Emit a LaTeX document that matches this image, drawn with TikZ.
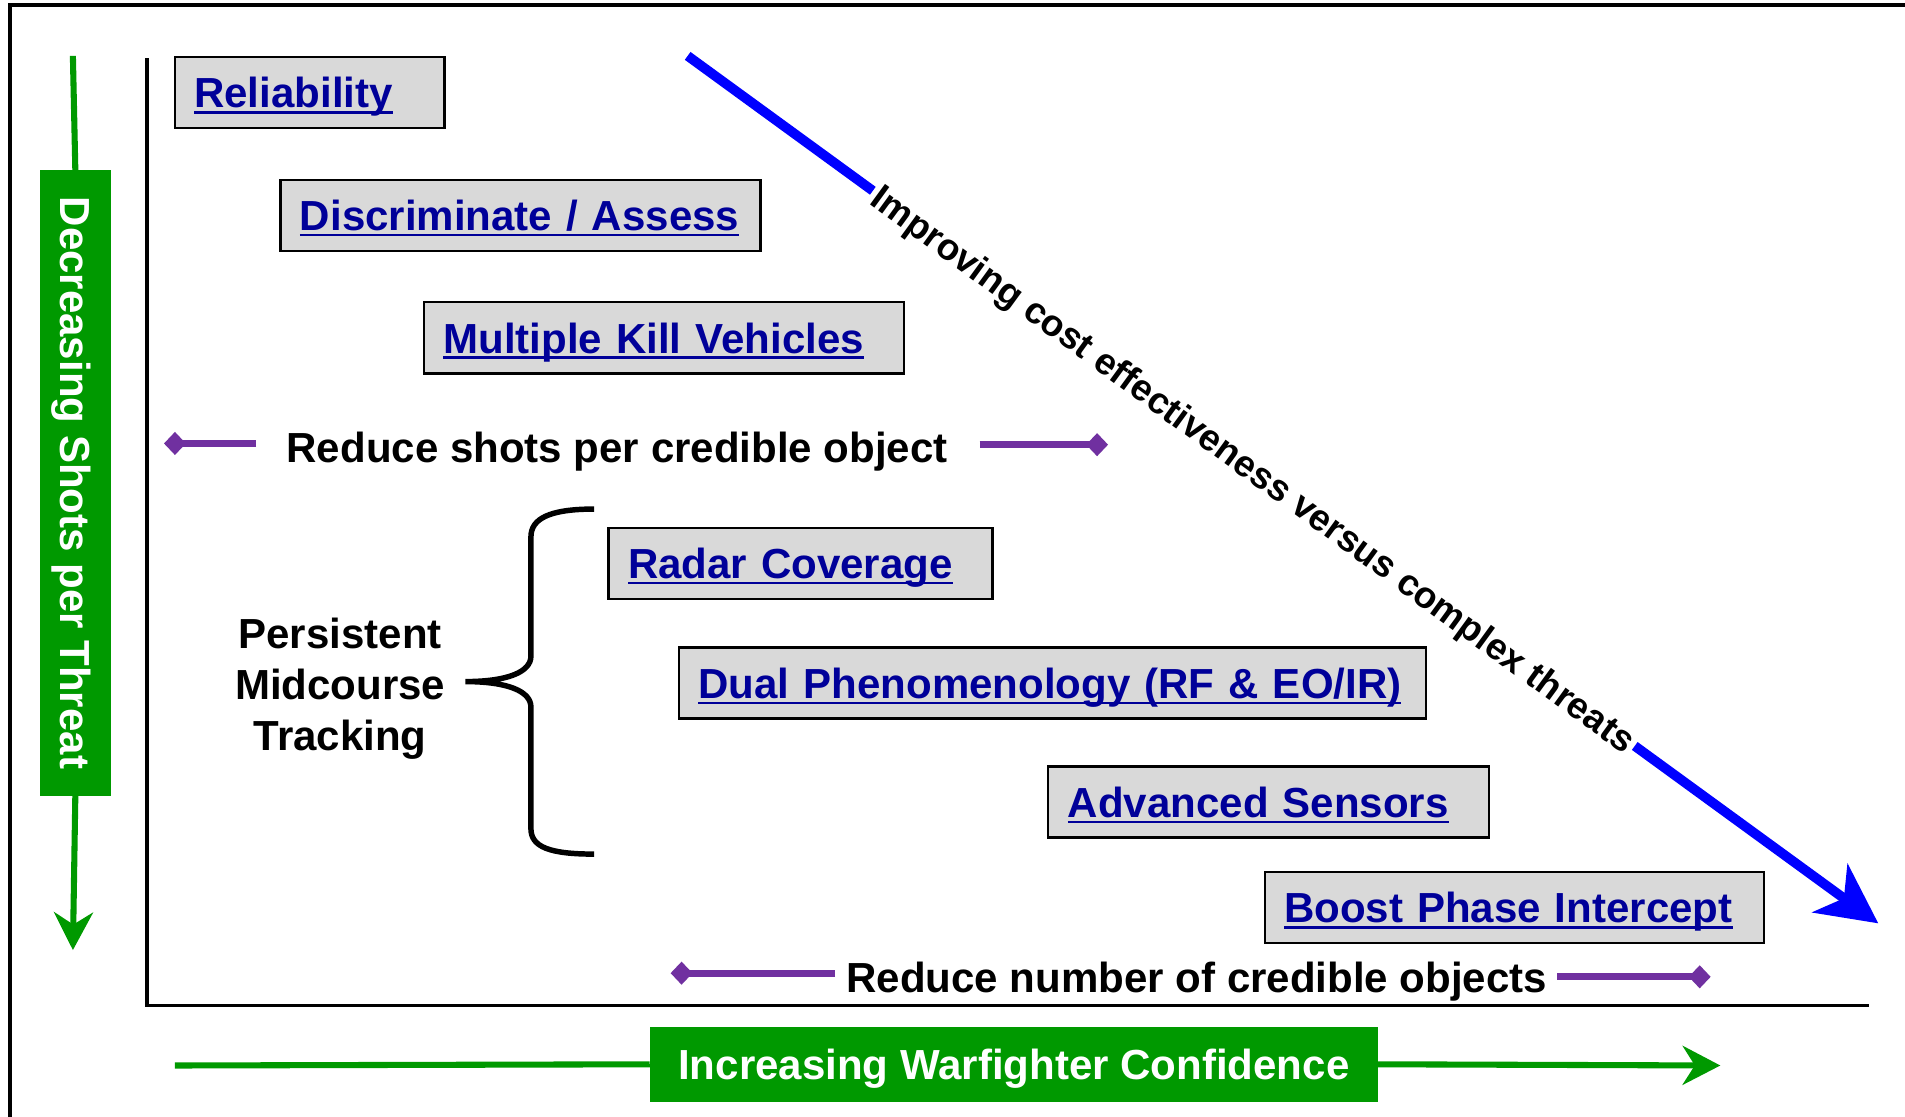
\documentclass[tikz,border=0pt]{standalone}
\usepackage{fontspec}
\setmainfont{Liberation Sans}
\usetikzlibrary{arrows.meta,calc}
\definecolor{tblue}{RGB}{0,0,153}
\definecolor{ablue}{RGB}{0,0,255}
\definecolor{grn}{RGB}{0,153,0}
\definecolor{pur}{RGB}{112,48,160}
\definecolor{gbg}{RGB}{217,217,217}
\newcommand\myul[1]{\setbox0\hbox{#1}\rlap{\rule[-0.14em]{\wd0}{0.06em}}\box0}
\begin{document}
\begin{tikzpicture}[x=1pt,y=-1pt,
  big/.style={font=\fontsize{34.6}{42}\selectfont\bfseries},
  gbox/.style={draw=black, line width=1.8pt, fill=gbg, anchor=north west, inner xsep=16pt, inner ysep=0pt,
    align=left, text=tblue, big, text height=25pt, text depth=0pt, minimum height=58.5pt},
  lbl/.style={big, inner sep=0pt, text height=25pt, text depth=0pt},
  greenbox/.style={fill=grn, text=white, big, inner sep=0pt, text height=25pt, text depth=0pt},
  greenline/.style={draw=grn, line width=5pt},
  greenarrow/.style={greenline, -{Stealth[length=31pt,width=32pt,inset=10pt]}},
  purline/.style={draw=pur, line width=5.5pt, -{Diamond[length=18pt,width=19pt]}},
  blueline/.style={draw=ablue, line width=8pt},
]
\useasboundingbox (0,0) rectangle (1568,919);
\fill[white] (0,0) rectangle (1568,919);
% outer frame
\draw[line width=3.5pt, line join=miter] (8,940) -- (8,4) -- (1590,4);
% axes
\draw[line width=2.5pt, line join=miter] (121,48) -- (121,828) -- (1538,828);

% boxes
\node[gbox, text width=190pt, minimum height=58.5pt] (rel) at (143,46) {\myul{Reliability}};
\node[gbox, text width=363pt] (dis) at (230,147) {\myul{Discriminate / Assess}};
\node[gbox, text width=363pt] (mkv) at (348,248) {\myul{Multiple Kill Vehicles}};
\node[gbox, text width=284pt] (rad) at (500,433.5) {\myul{Radar Coverage}};
\node[gbox, text width=583pt] (dual) at (558,532) {\myul{Dual Phenomenology (RF \& EO/IR)}};
\node[gbox, text width=331pt] (adv) at (862,630) {\myul{Advanced Sensors}};
\node[gbox, text width=379pt] (bpi) at (1040,717) {\myul{Boost Phase Intercept}};

% reduce shots
\node[lbl] (rs) at (508,368) {Reduce shots per credible object};
\coordinate (rsL) at (135,365);
\coordinate (rsR) at (912,366);
\draw[purline] ([xshift=-25pt]rs.west |- rsL) -- (rsL);
\draw[purline] ([xshift=26pt]rs.east |- rsR) -- (rsR);

% reduce number
\node[lbl] (rn) at (985,804) {Reduce number of credible objects};
\coordinate (rnL) at (552,801);
\coordinate (rnR) at (1408,804);
\draw[purline] ([xshift=-9pt]rn.west |- rnL) -- (rnL);
\draw[purline] ([xshift=8pt]rn.east |- rnR) -- (rnR);

% persistent midcourse tracking
\node[big, align=center, inner sep=0pt, anchor=north] (pmt) at (280,508.5) {Persistent\\Midcourse\\Tracking};
\draw[line width=4.5pt] (489,419) .. controls (452,419) and (437,427) .. (437,442)
  -- (437,540) .. controls (437,553) and (418,561) .. (383,561)
  .. controls (418,561) and (437,569) .. (437,582)
  -- (437,682) .. controls (437,697) and (452,703) .. (489,703);

% blue arrow
\coordinate (bs) at (566,46);
\coordinate (be) at (1546,760);
\node[font=\fontsize{30.5}{37}\selectfont\bfseries, inner xsep=3pt, inner ysep=0pt, text height=22pt, text depth=0pt, rotate=-36.08]
  (imp) at ($(bs)!0.4755!(be)$) {Improving cost effectiveness versus complex threats};
\draw[blueline] (bs) -- (imp.west);
\draw[blueline, -{Stealth[length=49pt,width=49pt,inset=14pt]}] (imp.east) -- (be);

% vertical green axis label
\coordinate (vtop) at (60,46);
\coordinate (vbot) at (60,782);
\node[greenbox, rotate=-90, minimum width=515pt, minimum height=58pt] (vbox) at (62,397.5) {Decreasing Shots per Threat};
\draw[greenline] (vtop) -- (vbox.west);
\draw[greenarrow] (vbox.east) -- (vbot);

% horizontal green axis label
\coordinate (hs) at (144,877);
\coordinate (he) at (1416,877);
\node[greenbox, minimum width=599pt, minimum height=62pt] (hbox) at (834.5,876) {Increasing Warfighter Confidence};
\draw[greenline] (hs) -- (hbox.west);
\draw[greenarrow] (hbox.east) -- (he);
\end{tikzpicture}
\end{document}
